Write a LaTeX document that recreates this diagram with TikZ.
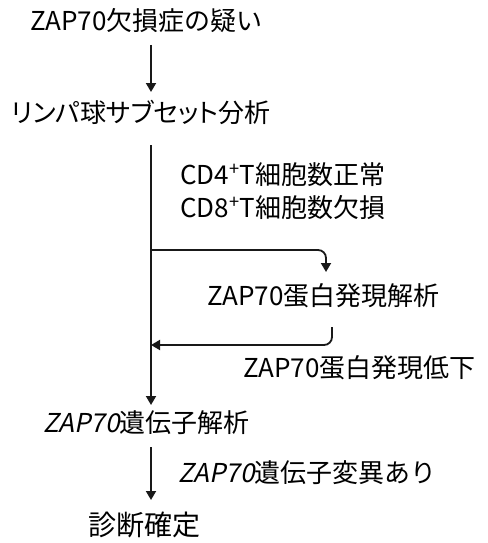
\documentclass[tikz,border=0pt]{standalone}
\usepackage{fontspec}
\setmainfont{Noto Sans CJK JP}[AutoFakeSlant=0.2]
\usetikzlibrary{arrows.meta}
\tikzset{
  lbl/.style={anchor=west, inner sep=0pt, font=\fontsize{26}{29}\selectfont},
  pal/.style={lbl, font=\fontsize{26}{29}\selectfont\addfontfeatures{RawFeature=+palt}},
  arr/.style={line width=1.8pt, draw=black!90, -{Triangle[width=10pt,length=9pt]}}
}
\begin{document}
\begin{tikzpicture}[x=1pt,y=-1pt]
\useasboundingbox (0,0) rectangle (487,543);
\node[lbl] (a) at (30,21) {ZAP70欠損症の疑い};
\node[pal] (b) at (11,112) {リンパ球サブセット分析};
\node[lbl] (t1) at (180,175) {CD4\textsuperscript{+}T細胞数正常};
\node[lbl] (t2) at (180,208) {CD8\textsuperscript{+}T細胞数欠損};
\node[lbl] (c) at (207,296) {ZAP70蛋白発現解析};
\node[lbl] (t3) at (243,368) {ZAP70蛋白発現低下};
\node[lbl] (e) at (43,423) {\itshape ZAP70\upshape 遺伝子解析};
\node[lbl] (t4) at (178,473) {\itshape ZAP70\upshape 遺伝子変異あり};
\node[lbl] (f) at (88,525) {\fontsize{28}{30}\selectfont 診断確定};
\coordinate (a1) at (151,45);
\coordinate (b1) at (151,92);
\coordinate (b2) at (151,145);
\coordinate (e1) at (151,405);
\coordinate (e2) at (151,447);
\coordinate (f1) at (151,500);
\coordinate (br1) at (151,250);
\coordinate (br2) at (151,345);
\coordinate (ct) at (326,272);
\coordinate (cs) at (332,327);
\draw[arr] (a1) -- (b1);
\draw[arr] (b2) -- (e1);
\draw[arr, rounded corners=8pt] (br1) -| (ct);
\draw[arr, rounded corners=8pt] (cs) |- (br2);
\draw[arr] (e2) -- (f1);
\end{tikzpicture}
\end{document}
